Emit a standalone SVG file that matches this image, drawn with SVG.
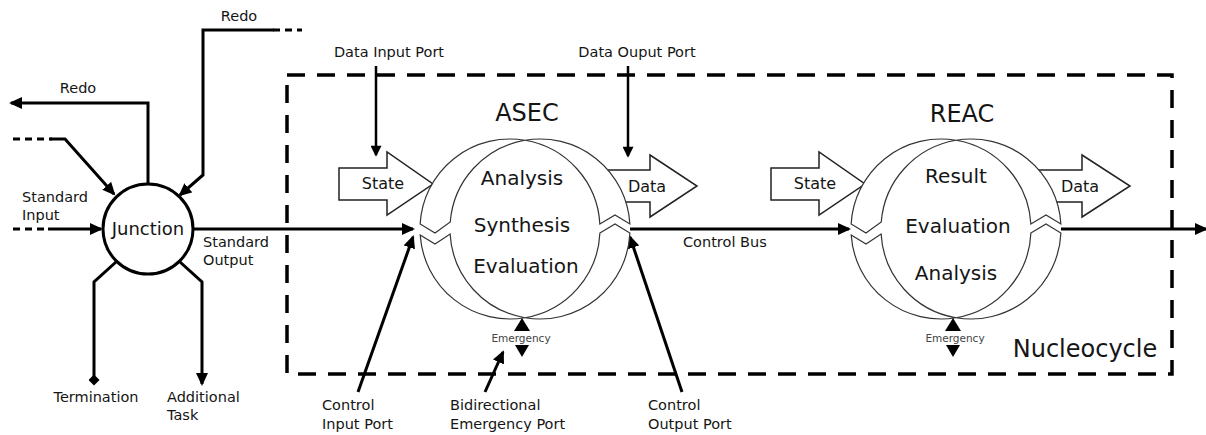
<svg xmlns="http://www.w3.org/2000/svg" width="1206" height="435" viewBox="0 0 1206 435">
<style>
text{font-family:"DejaVu Sans","Liberation Sans",sans-serif;fill:#151515}
.lbl{font-size:14.5px}
.big{font-size:20px;text-anchor:middle}
.title{font-size:24px;text-anchor:middle}
.blk{font-size:16px;text-anchor:middle}
.em{font-size:10.5px;fill:#444;text-anchor:middle}
.ln{fill:none;stroke:#000;stroke-width:3}
.dsh{fill:none;stroke:#000;stroke-width:3;stroke-dasharray:7 5}
.thin{fill:none;stroke:#000;stroke-width:2.5}
.cyc{fill:#fff;stroke:#333;stroke-width:1.2}
.barrow{fill:#fff;stroke:#222;stroke-width:1.5}
</style>
<defs>
<marker id="ah" viewBox="0 0 13 12" refX="11" refY="6" markerWidth="13" markerHeight="12" markerUnits="userSpaceOnUse" orient="auto"><path d="M0,0 L13,6 L0,12 z" fill="#000"/></marker>
<marker id="dm" viewBox="0 0 12 12" refX="6" refY="6" markerWidth="11" markerHeight="11" markerUnits="userSpaceOnUse" orient="auto"><path d="M6,0 L12,6 L6,12 L0,6 z" fill="#000"/></marker>
<marker id="ahs" viewBox="0 0 12 12" refX="10" refY="6" markerWidth="12" markerHeight="11" markerUnits="userSpaceOnUse" orient="auto"><path d="M0,0 L12,6 L0,12 z" fill="#000"/></marker>
</defs>

<g id="nucleocycle">
<rect x="287" y="75" width="885" height="299" fill="none" stroke="#000" stroke-width="3.5" stroke-dasharray="18 12"/>
<text x="1085" y="357" style="font-size:24px;text-anchor:middle">Nucleocycle</text>
</g>

<g id="connectors">
<path class="dsh" d="M13,229 H48"/>
<path class="ln" d="M48,229 H101" marker-end="url(#ah)"/>
<path class="dsh" d="M13,139 H52"/>
<path class="ln" d="M50,139 H65 L114,194" marker-end="url(#ah)"/>
<path class="ln" d="M148,184 V103 H11" marker-end="url(#ah)"/>
<path class="dsh" d="M273,30 H302"/>
<path class="ln" d="M274,30 H203 V175 L180,195" marker-end="url(#ah)"/>
<path class="ln" d="M116,262 L94,282 V380" marker-end="url(#dm)"/>
<path class="ln" d="M180,262 L202,282 V384" marker-end="url(#ah)"/>
<path class="ln" d="M193,229 H413" marker-end="url(#ah)"/>
<path class="ln" d="M630,229 H849" marker-end="url(#ah)"/>
<path class="ln" d="M1061,229 H1206" marker-end="url(#ah)"/>
<path class="thin" d="M376,66 V155" marker-end="url(#ahs)"/>
<path class="thin" d="M628,66 V156" marker-end="url(#ahs)"/>
<path class="ln" d="M358,392 L413,237" marker-end="url(#ah)"/>
<path class="ln" d="M485,392 L503,352" marker-end="url(#ah)"/>
<path class="ln" d="M682,392 L630,237" marker-end="url(#ah)"/>
</g>

<g id="junction">
<circle cx="148" cy="229" r="45" fill="#fff" stroke="#000" stroke-width="3"/>
<text x="148" y="235" style="font-size:18px;text-anchor:middle">Junction</text>
</g>

<g id="labels">
<text class="lbl" x="78" y="93" text-anchor="middle">Redo</text>
<text class="lbl" x="239" y="21" text-anchor="middle">Redo</text>
<text class="lbl" x="22" y="202">Standard</text>
<text class="lbl" x="22" y="220">Input</text>
<text class="lbl" x="203" y="247">Standard</text>
<text class="lbl" x="203" y="265">Output</text>
<text class="lbl" x="96" y="402" text-anchor="middle">Termination</text>
<text class="lbl" x="167" y="402">Additional</text>
<text class="lbl" x="167" y="420">Task</text>
<text class="lbl" x="389" y="57" text-anchor="middle">Data Input Port</text>
<text class="lbl" x="637" y="57" text-anchor="middle">Data Ouput Port</text>
<text class="lbl" x="683" y="247">Control Bus</text>
<text class="lbl" x="322" y="410">Control</text>
<text class="lbl" x="322" y="429">Input Port</text>
<text class="lbl" x="450" y="410">Bidirectional</text>
<text class="lbl" x="450" y="429">Emergency Port</text>
<text class="lbl" x="648" y="410">Control</text>
<text class="lbl" x="648" y="429">Output Port</text>
</g>

<g id="asec">
<polygon class="barrow" points="339,168 387,168 387,152 433,184 387,215 387,200 339,200"/>
<text class="blk" x="383" y="189">State</text>
<polygon class="barrow" points="605,170 650,170 650,155 697,186 650,217 650,202 605,202"/>
<text class="blk" x="647" y="192">Data</text>
<path class="cyc" d="M525,140.26 A90,90 0 0 0 420.14,224 L435,233 L450.27,222 A90,90 0 0 1 525,140.26 Z"/>
<path class="cyc" d="M420.2,235 L435,244 L450.14,234 A90,90 0 0 0 525,317.74 A90,90 0 0 1 420.2,235 Z"/>
<path class="cyc" d="M525,140.26 A90,90 0 0 1 629.86,224 L615,215 L599.86,224 A90,90 0 0 0 525,140.26 Z"/>
<path class="cyc" d="M599.9,233 L615,224 L629.9,233 A90,90 0 0 1 525,317.74 A90,90 0 0 0 599.9,233 Z"/>
<text class="title" x="527" y="121">ASEC</text>
<text class="big" x="522" y="185">Analysis</text>
<text class="big" x="522" y="232">Synthesis</text>
<text class="big" x="526" y="273">Evaluation</text>
<polygon points="522,318 530,331 514,331" fill="#000"/>
<text class="em" x="521" y="342">Emergency</text>
<polygon points="515,345 529,345 522,357" fill="#000"/>
</g>

<g id="reac">
<polygon class="barrow" points="771,168 819,168 819,152 865,184 819,215 819,200 771,200"/>
<text class="blk" x="815" y="189">State</text>
<polygon class="barrow" points="1036,170 1082,170 1082,155 1130,186 1082,217 1082,202 1036,202"/>
<text class="blk" x="1080" y="192">Data</text>
<g transform="translate(431,0)">
<path class="cyc" d="M525,140.26 A90,90 0 0 0 420.14,224 L435,233 L450.27,222 A90,90 0 0 1 525,140.26 Z"/>
<path class="cyc" d="M420.2,235 L435,244 L450.14,234 A90,90 0 0 0 525,317.74 A90,90 0 0 1 420.2,235 Z"/>
<path class="cyc" d="M525,140.26 A90,90 0 0 1 629.86,224 L615,215 L599.86,224 A90,90 0 0 0 525,140.26 Z"/>
<path class="cyc" d="M599.9,233 L615,224 L629.9,233 A90,90 0 0 1 525,317.74 A90,90 0 0 0 599.9,233 Z"/>
</g>
<text class="title" x="962" y="122">REAC</text>
<text class="big" x="956" y="183">Result</text>
<text class="big" x="958" y="233">Evaluation</text>
<text class="big" x="956" y="280">Analysis</text>
<polygon points="953,318 961,331 945,331" fill="#000"/>
<text class="em" x="955" y="342">Emergency</text>
<polygon points="946,345 960,345 953,357" fill="#000"/>
</g>
</svg>
